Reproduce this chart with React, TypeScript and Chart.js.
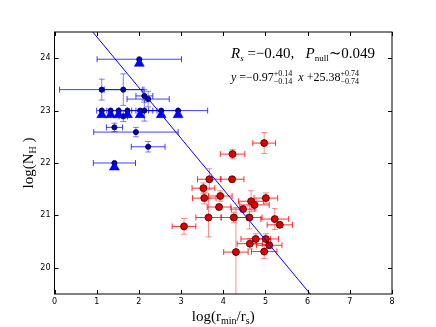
import React, { useEffect, useRef } from "react";
import { Chart, registerables } from "chart.js";

Chart.register(...registerables);

// ---- data ----
const redX = [4.97, 4.22, 3.67, 4.21, 3.53, 3.55, 3.93, 4.66, 5.01, 4.74, 3.90, 4.47, 3.65, 4.25, 4.62, 5.22, 5.34, 3.07, 4.77, 5.01, 4.63, 5.09, 4.97, 4.30];
const redY = [22.38, 22.17, 21.69, 21.69, 21.52, 21.33, 21.37, 21.27, 21.33, 21.20, 21.16, 21.12, 20.96, 20.96, 20.96, 20.93, 20.82, 20.79, 20.55, 20.55, 20.46, 20.43, 20.31, 20.30];
const redXErr = [0.27, 0.29, 0.28, 0.28, 0.27, 0.28, 0.28, 0.3, 0.28, 0.35, 0.28, 0.28, 0.3, 0.3, 0.3, 0.33, 0.3, 0.28, 0.35, 0.3, 0.3, 0.3, 0.3, 0.29];
const redYErr = [0.2, 0.09, 0.2, 0.05, 0.1, 0.11, 0.1, 0.2, 0.1, 0.1, 0.05, 0.05, 0.37, 0.1, 0.22, 0.2, 0.05, 0.15, 0.1, 0.1, 0.1, 0.05, 0.13, 0.85];

const blueX = [1.12, 1.63, 2.13, 2.22, 1.12, 1.33, 1.52, 1.73, 2.03, 2.13, 2.53, 2.93, 1.63, 1.42, 1.93, 2.22, 2.01, 1.42];
const blueY = [23.40, 23.40, 23.28, 23.22, 23.0, 23.0, 23.0, 23.0, 23.0, 23.0, 23.0, 23.0, 22.89, 22.68, 22.59, 22.31, 23.98, 22.0];
const blueXErr = [1.0, 0.45, 0.2, 0.5, 0.12, 0.2, 0.2, 0.2, 0.3, 0.3, 0.4, 0.7, 0.1, 0.19, 1.0, 0.4, 1.0, 0.5];
const blueYErr = [0.2, 0.3, 0.12, 0.15, 0, 0, 0, 0, 0, 0.2, 0, 0, 0.1, 0.08, 0.09, 0.1, 0, 0];

const limitX = [2.01, 1.12, 1.33, 1.52, 1.73, 2.03, 2.53, 2.93, 1.42];
const limitY = [23.90, 22.92, 22.92, 22.92, 22.92, 22.92, 22.92, 22.92, 21.92];

const fitSlope = -0.97;
const fitIntercept = 25.38;
const fitX = [0.5, 6.5];

const xTicks = [0, 1, 2, 3, 4, 5, 6, 7, 8];
const yTicks = [20, 21, 22, 23, 24];

const SERIF = "'Liberation Serif', 'DejaVu Serif', serif";

type Piece = { t: string; size: number; italic?: boolean; dy?: number; stackWith?: boolean };

function drawPieces(ctx: CanvasRenderingContext2D, x: number, y: number, pieces: Piece[]) {
  let cx = x;
  let lastX = x;
  let lastW = 0;
  for (const p of pieces) {
    ctx.font = `${p.italic ? "italic " : ""}${p.size}px ${SERIF}`;
    const w = ctx.measureText(p.t).width;
    const px = p.stackWith ? lastX : cx;
    ctx.fillText(p.t, px, y + (p.dy || 0));
    if (p.stackWith) {
      cx = Math.max(lastX + lastW, px + w);
    } else {
      lastX = px;
      lastW = w;
      cx = px + w;
    }
  }
  return cx;
}

function measurePieces(ctx: CanvasRenderingContext2D, pieces: Piece[]) {
  let w = 0;
  for (const p of pieces) {
    ctx.font = `${p.italic ? "italic " : ""}${p.size}px ${SERIF}`;
    w += ctx.measureText(p.t).width;
  }
  return w;
}

const errorBarPlugin = {
  id: "errorBars",
  beforeDatasetsDraw(chart: any) {
    const { ctx, chartArea, scales } = chart;
    const xs = scales.x;
    const ys = scales.y;
    ctx.save();
    ctx.beginPath();
    ctx.rect(chartArea.left, chartArea.top, chartArea.right - chartArea.left, chartArea.bottom - chartArea.top);
    ctx.clip();
    const cap = 3;
    const draw = (X: number[], Y: number[], XE: number[], YE: number[], cx: string, cy: string) => {
      for (let i = 0; i < X.length; i++) {
        const px = xs.getPixelForValue(X[i]);
        const py = ys.getPixelForValue(Y[i]);
        ctx.lineWidth = 1;
        if (YE[i] > 0) {
          const y1 = ys.getPixelForValue(Y[i] + YE[i]);
          const y2 = ys.getPixelForValue(Y[i] - YE[i]);
          ctx.strokeStyle = cy;
          ctx.beginPath();
          ctx.moveTo(px, y1); ctx.lineTo(px, y2);
          ctx.moveTo(px - cap, y1); ctx.lineTo(px + cap, y1);
          ctx.moveTo(px - cap, y2); ctx.lineTo(px + cap, y2);
          ctx.stroke();
        }
        if (XE[i] > 0) {
          const x1 = xs.getPixelForValue(X[i] - XE[i]);
          const x2 = xs.getPixelForValue(X[i] + XE[i]);
          ctx.strokeStyle = cx;
          ctx.beginPath();
          ctx.moveTo(x1, py); ctx.lineTo(x2, py);
          ctx.moveTo(x1, py - cap); ctx.lineTo(x1, py + cap);
          ctx.moveTo(x2, py - cap); ctx.lineTo(x2, py + cap);
          ctx.stroke();
        }
      }
    };
    draw(blueX, blueY, blueXErr, blueYErr, "rgba(0,0,255,0.75)", "rgba(0,0,255,0.5)");
    draw(redX, redY, redXErr, redYErr, "rgba(255,0,0,0.8)", "rgba(255,0,0,0.45)");
    ctx.restore();
  },
  afterDraw(chart: any) {
    const { ctx, chartArea, scales } = chart;
    const { left, right, top, bottom } = chartArea;
    ctx.save();
    // frame
    ctx.strokeStyle = "#000";
    ctx.lineWidth = 1;
    ctx.strokeRect(left, top, right - left, bottom - top);
    // inward ticks on all sides
    const tl = 4;
    ctx.beginPath();
    for (const v of xTicks) {
      const px = Math.round(scales.x.getPixelForValue(v)) + 0.5;
      ctx.moveTo(px, bottom); ctx.lineTo(px, bottom - tl);
      ctx.moveTo(px, top); ctx.lineTo(px, top + tl);
    }
    for (const v of yTicks) {
      const py = Math.round(scales.y.getPixelForValue(v)) + 0.5;
      ctx.moveTo(left, py); ctx.lineTo(left + tl, py);
      ctx.moveTo(right, py); ctx.lineTo(right - tl, py);
    }
    ctx.stroke();

    ctx.fillStyle = "#000";
    ctx.textBaseline = "alphabetic";
    ctx.textAlign = "left";
    // annotation line 1
    drawPieces(ctx, 231, 58, [
      { t: "R", size: 15, italic: true },
      { t: "s", size: 9, italic: true, dy: 3 },
      { t: " =\u2212", size: 15 },
      { t: "0.40,   ", size: 15 },
      { t: "P", size: 15, italic: true },
      { t: "null", size: 9, dy: 3 },
      { t: "\u223C0.049", size: 15 },
    ]);
    // annotation line 2
    drawPieces(ctx, 231, 81, [
      { t: "y", size: 12, italic: true },
      { t: " =\u22120.97", size: 12 },
      { t: "+0.14", size: 8, dy: -5 },
      { t: "\u22120.14", size: 8, dy: 3, stackWith: true },
      { t: "  x", size: 12, italic: true },
      { t: " +25.38", size: 12 },
      { t: "+0.74", size: 8, dy: -5 },
      { t: "\u22120.74", size: 8, dy: 3, stackWith: true },
    ]);

    // x axis label
    const xl: Piece[] = [
      { t: "log(r", size: 15 },
      { t: "min", size: 10, dy: 3 },
      { t: "/r", size: 15 },
      { t: "s", size: 10, dy: 3 },
      { t: ")", size: 15 },
    ];
    const xw = measurePieces(ctx, xl);
    drawPieces(ctx, (left + right) / 2 - xw / 2, 321, xl);

    // y axis label
    const yl: Piece[] = [
      { t: "log(N", size: 15 },
      { t: "H", size: 10, dy: 3 },
      { t: " )", size: 15 },
    ];
    const yw = measurePieces(ctx, yl);
    ctx.translate(33, (top + bottom) / 2);
    ctx.rotate(-Math.PI / 2);
    drawPieces(ctx, -yw / 2, 0, yl);
    ctx.restore();
  },
};

export default function App() {
  const ref = useRef<HTMLCanvasElement | null>(null);
  useEffect(() => {
    if (!ref.current) return;
    const red = redX.map((x, i) => ({ x, y: redY[i] }));
    const blue = blueX.map((x, i) => ({ x, y: blueY[i] }));
    const lim = limitX.map((x, i) => ({ x, y: limitY[i] }));
    const fit = fitX.map((x) => ({ x, y: fitSlope * x + fitIntercept }));
    const chart = new Chart(ref.current, {
      type: "scatter",
      data: {
        datasets: [
          {
            type: "line",
            data: fit,
            borderColor: "#0000ff",
            borderWidth: 1,
            pointRadius: 0,
            fill: false,
            order: 0,
          } as any,
          {
            data: lim,
            pointStyle: "triangle",
            pointRadius: 5.8,
            backgroundColor: "#0000ff",
            borderColor: "#0000c8",
            borderWidth: 0.5,
            order: 1,
          },
          {
            data: blue,
            pointRadius: 2.6,
            backgroundColor: "#0000b4",
            borderColor: "#000033",
            borderWidth: 0.8,
            order: 2,
          },
          {
            data: red,
            pointRadius: 3.5,
            backgroundColor: "#dd0000",
            borderColor: "#3a0000",
            borderWidth: 0.8,
            order: 3,
          },
        ],
      },
      options: {
        animation: false,
        responsive: false,
        events: [],
        layout: { padding: { top: 32, right: 44, left: 0, bottom: 0 } },
        plugins: { legend: { display: false }, tooltip: { enabled: false } },
        scales: {
          x: {
            type: "linear",
            min: 0,
            max: 8,
            grid: { display: false, drawTicks: false },
            border: { display: false },
            ticks: {
              stepSize: 1,
              padding: 3,
              color: "#000",
              font: { family: "'DejaVu Sans', sans-serif", size: 8 },
            },
            afterBuildTicks: (s: any) => { s.ticks = xTicks.map((v) => ({ value: v })); },
            afterFit: (s: any) => { s.height = 33; },
          },
          y: {
            type: "linear",
            min: 19.5,
            max: 24.5,
            grid: { display: false, drawTicks: false },
            border: { display: false },
            ticks: {
              padding: 4,
              color: "#000",
              font: { family: "'DejaVu Sans', sans-serif", size: 8 },
            },
            afterBuildTicks: (s: any) => { s.ticks = yTicks.map((v) => ({ value: v })); },
            afterFit: (s: any) => { s.width = 54.5; },
          },
        },
      },
      plugins: [errorBarPlugin],
    } as any);
    return () => chart.destroy();
  }, []);
  return (
    <div style={{ position: "fixed", left: 0, top: 0, width: 436, height: 327, background: "#fff" }}>
      <canvas ref={ref} width={436} height={327} style={{ width: 436, height: 327 }} />
    </div>
  );
}
